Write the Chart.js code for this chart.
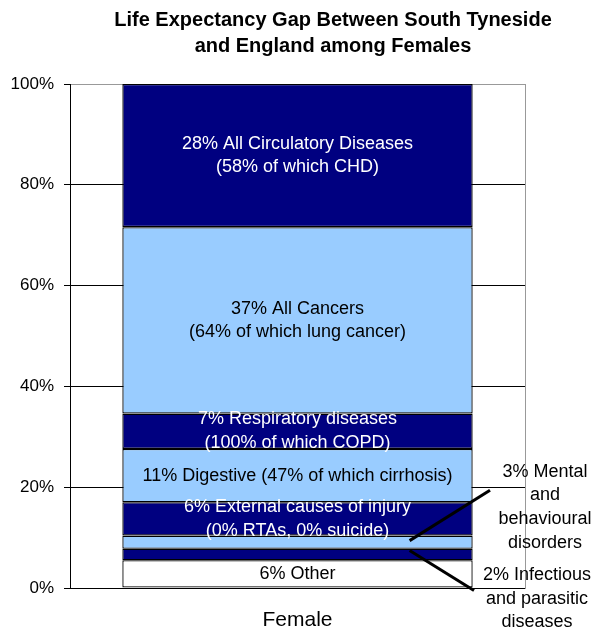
<!DOCTYPE html>
<html>
<head>
<meta charset="utf-8">
<script src="https://cdn.jsdelivr.net/npm/chart.js@4/dist/chart.umd.min.js"></script>
<style>
  html, body { margin: 0; padding: 0; background: #fff; }
  #wrap { width: 592px; height: 631px; }
</style>
</head>
<body>
<div id="wrap"><canvas id="gapChart"></canvas></div>
<script>
// values (share of the gap, %)
const categories = ['Female'];
const causes = [
  'Other',
  'Infectious and parasitic diseases',
  'Mental and behavioural disorders',
  'External causes of injury',
  'Digestive',
  'Respiratory diseases',
  'All Cancers',
  'All Circulatory Diseases'
];
const shares = [5.5, 2.3, 2.6, 6.6, 10.6, 7.0, 37.0, 28.4];
const segmentLabels = [
  ['6% Other'],
  ['2% Infectious', 'and parasitic', 'diseases'],
  ['3% Mental', 'and', 'behavioural', 'disorders'],
  ['6% External causes of injury', '(0% RTAs, 0% suicide)'],
  ['11% Digestive (47% of which cirrhosis)'],
  ['7% Respiratory diseases', '(100% of which COPD)'],
  ['37% All Cancers', '(64% of which lung cancer)'],
  ['28% All Circulatory Diseases', '(58% of which CHD)']
];
const yTicks = [0, 20, 40, 60, 80, 100];
const titleLines = ['Life Expectancy Gap Between South Tyneside', 'and England among Females'];

const NAVY = '#000080';
const LIGHT = '#99CCFF';
const fills = ['#FFFFFF', NAVY, LIGHT, NAVY, LIGHT, NAVY, LIGHT, NAVY];
const inks = ['#000', '#fff', '#000', '#fff', '#000', '#fff', '#000', '#fff'];
const FONT = '"Liberation Sans", Arial, sans-serif';

// title drawn by hand so it can sit off-centre like the original
const titleBlock = {
  id: 'titleBlock',
  afterDraw(chart, args, opts) {
    const ctx = chart.ctx;
    ctx.save();
    ctx.font = 'bold ' + opts.size + 'px ' + FONT;
    ctx.fillStyle = '#000';
    ctx.textAlign = 'center';
    ctx.textBaseline = 'middle';
    titleLines.forEach((t, i) => ctx.fillText(t, opts.x, opts.top + i * opts.gap));
    ctx.restore();
  }
};

// labels inside the stacked segments
const segmentText = {
  id: 'segmentText',
  afterDatasetsDraw(chart, args, opts) {
    const ctx = chart.ctx;
    ctx.save();
    ctx.font = opts.size + 'px ' + FONT;
    ctx.textAlign = 'center';
    ctx.textBaseline = 'middle';
    chart.data.datasets.forEach((ds, i) => {
      if (opts.skip.includes(i)) return;
      const bar = chart.getDatasetMeta(i).data[0];
      const mid = (bar.y + bar.base) / 2;
      const lines = segmentLabels[i];
      ctx.fillStyle = inks[i];
      lines.forEach((t, k) => {
        ctx.fillText(t, bar.x, mid + (k - (lines.length - 1) / 2) * opts.gap);
      });
    });
    ctx.restore();
  }
};

// the two thin segments get their labels outside with leader lines
const callouts = {
  id: 'callouts',
  afterDatasetsDraw(chart, args, opts) {
    const ctx = chart.ctx;
    const y = chart.scales.y;
    const area = chart.chartArea;
    ctx.save();
    ctx.font = opts.size + 'px ' + FONT;
    ctx.textAlign = 'center';
    ctx.textBaseline = 'middle';
    opts.items.forEach(it => {
      const bar = chart.getDatasetMeta(it.dataset).data[0];
      const sx = bar.x + it.from * bar.width / 2;
      const sy = (bar.y + bar.base) / 2 + it.dy;
      ctx.strokeStyle = '#000';
      ctx.lineWidth = 3;
      ctx.beginPath();
      ctx.moveTo(sx, sy);
      ctx.lineTo(area.right + it.toX, y.getPixelForValue(it.toY));
      ctx.stroke();
      ctx.fillStyle = '#000';
      const ty = y.getPixelForValue(it.textY);
      segmentLabels[it.dataset].forEach((t, k) => {
        ctx.fillText(t, area.right + it.textX, ty + k * opts.gap);
      });
    });
    ctx.restore();
  }
};

new Chart(document.getElementById('gapChart'), {
  type: 'bar',
  data: {
    labels: categories,
    datasets: causes.map((c, i) => ({
      label: c,
      data: [shares[i]],
      backgroundColor: fills[i],
      borderColor: '#000',
      borderWidth: 1.3,
      borderSkipped: false,
      categoryPercentage: 1,
      barPercentage: 0.77
    }))
  },
  options: {
    responsive: true,
    maintainAspectRatio: false,
    animation: false,
    layout: { padding: { top: 84, left: 0, right: 0, bottom: 0 } },
    scales: {
      x: {
        stacked: true,
        grid: { display: false },
        border: { color: '#000', width: 1 },
        ticks: { color: '#000', font: { family: FONT, size: 21 }, padding: 12 },
        afterFit: s => { s.height = 43; }
      },
      y: {
        stacked: true,
        min: 0,
        max: 100,
        afterBuildTicks: s => { s.ticks = yTicks.map(v => ({ value: v })); },
        ticks: { color: '#000', font: { family: FONT, size: 17 }, padding: 10, callback: v => v + '%' },
        grid: {
          color: c => (c.tick && c.tick.value === 100 ? '#999' : '#000'),
          tickColor: '#000',
          tickLength: 6,
          lineWidth: 1
        },
        border: { color: '#000', width: 1 },
        afterFit: s => { s.width = 70; }
      },
      yRight: {
        position: 'right',
        min: 0,
        max: 100,
        ticks: { display: false },
        grid: { display: false },
        border: { color: '#999', width: 1 },
        afterFit: s => { s.width = 67; }
      }
    },
    plugins: {
      legend: { display: false },
      tooltip: { enabled: false },
      titleBlock: { size: 20, x: 333, top: 20, gap: 26.5 },
      segmentText: { size: 18, gap: 23.5, skip: [1, 2] },
      callouts: {
        size: 18,
        gap: 23.8,
        items: [
          { dataset: 2, from: 0.64, dy: -1.5, toX: -35, toY: 19.4, textX: 20, textY: 23.1 },
          { dataset: 1, from: 0.64, dy: -4, toX: -51, toY: -0.5, textX: 12, textY: 2.6 }
        ]
      }
    }
  },
  plugins: [titleBlock, segmentText, callouts]
});
</script>
</body>
</html>
